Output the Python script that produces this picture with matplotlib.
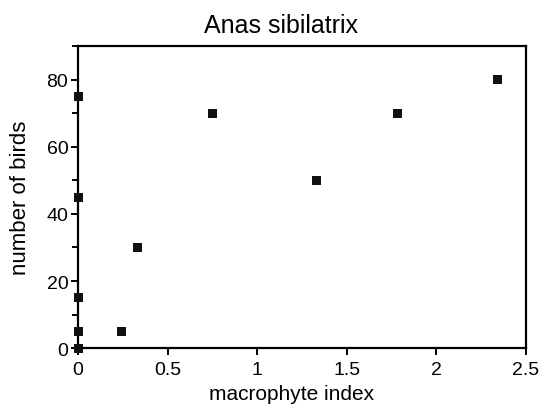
import matplotlib
matplotlib.use("Agg")
import matplotlib.pyplot as plt
from matplotlib.ticker import MultipleLocator

plt.rcParams['font.family'] = ['Liberation Sans', 'DejaVu Sans']

macrophyte_index = [0, 0, 0, 0, 0, 0.245, 0.33, 0.75, 1.33, 1.785, 2.34]
number_of_birds = [0, 5, 15, 45, 75, 5, 30, 70, 50, 70, 80]

fig = plt.figure(figsize=(5.42, 4.06), dpi=100)
ax = fig.add_axes([0.144, 0.140, 0.826, 0.744])
ax.scatter(macrophyte_index, number_of_birds, marker='s', s=42, color='#111111',
           edgecolors='none', clip_on=False, zorder=3)
ax.set_xlim(0, 2.5)
ax.set_ylim(0, 90)
ax.set_xticks([0, 0.5, 1, 1.5, 2, 2.5])
ax.set_xticklabels(['0', '0.5', '1', '1.5', '2', '2.5'])
ax.set_yticks([0, 20, 40, 60, 80])
ax.yaxis.set_minor_locator(MultipleLocator(10))
ax.tick_params(axis='both', which='major', direction='out', length=5, width=1.4,
               labelsize=14, pad=2)
ax.tick_params(axis='x', which='major', pad=4)
ax.tick_params(axis='y', which='minor', direction='out', length=4, width=1.4)
for s in ax.spines.values():
    s.set_linewidth(1.6)
ax.set_title('Anas sibilatrix', fontsize=18, pad=10, x=0.454)
ax.set_xlabel('macrophyte index', fontsize=15, labelpad=4)
ax.xaxis.set_label_coords(0.477, -0.12)
ax.set_ylabel('number of birds', fontsize=16, labelpad=11)
fig.savefig('out.png', dpi=100)
